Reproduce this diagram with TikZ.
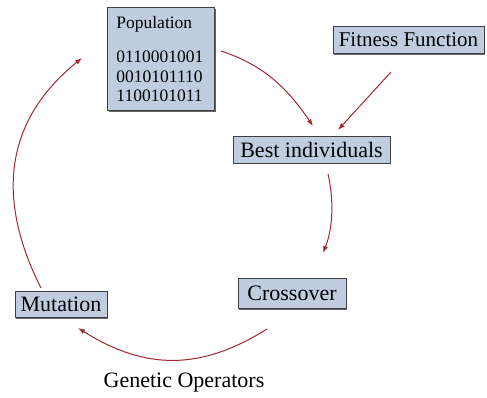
\documentclass[tikz,border=0pt]{standalone}
\usepackage{fontspec}
\setmainfont{Liberation Serif}
\usetikzlibrary{arrows.meta,shadows}
\definecolor{boxblue}{RGB}{192,205,224}
\definecolor{arrred}{RGB}{160,40,48}

\begin{document}
\begin{tikzpicture}[x=1pt,y=-1pt]
\tikzset{box/.style = {draw=black!75,fill=boxblue,line width=0.8pt,inner sep=0pt,
  drop shadow={shadow xshift=1.2pt,shadow yshift=-1.2pt,fill=black!60,opacity=1},
  font=\rmfamily\fontsize{22}{24}\selectfont}}
\tikzset{arr/.style = {draw=arrred,line width=1pt,-{Latex[length=7pt,width=5pt]}}}
\useasboundingbox (0,0) rectangle (487,397);
% population box
\node[box,anchor=north west,minimum width=107pt,minimum height=103pt,
  text width=89pt,align=left,inner xsep=9pt,
  font=\rmfamily\fontsize{17.5}{19.5}\selectfont] (pop) at (107,7)
  {Population\\[15pt]0110001001\\0010101110\\1100101011};
% the other boxes
\node[box,minimum width=151pt,minimum height=27pt,
  font=\rmfamily\fontsize{21}{24}\selectfont] (fit) at (408.5,40) {Fitness Function};
\node[box,minimum width=157pt,minimum height=27pt] (best) at (311.5,149.5) {Best individuals};
\node[box,minimum width=108pt,minimum height=30pt] (cross) at (292,293.5) {Crossover};
\node[box,minimum width=92pt,minimum height=26pt] (mut) at (61,304.5) {Mutation};
\node[font=\rmfamily\fontsize{22}{24}\selectfont] (gen) at (184,383) {Genetic Operators};
% arrow ends
\coordinate (popout) at (221,51);
\coordinate (bestin) at (313,126);
\coordinate (fitout) at (391,72);
\coordinate (bestin2) at (338,130);
\coordinate (bestout) at (328,174);
\coordinate (crossin) at (323,253);
\coordinate (crossout) at (267,329);
\coordinate (mutin) at (78,328);
\coordinate (mutout) at (41,288);
\coordinate (popin) at (82,58);
% the cycle
\draw[arr] (popout) .. controls (264,65) and (288,89) .. (bestin);
\draw[arr] (fitout) -- (bestin2);
\draw[arr] (bestout) .. controls (334,200) and (333,228) .. (crossin);
\draw[arr] (crossout) .. controls (200,371) and (145,370) .. (mutin);
\draw[arr] (mutout) .. controls (-4,199) and (4,121) .. (popin);
\end{tikzpicture}
\end{document}
